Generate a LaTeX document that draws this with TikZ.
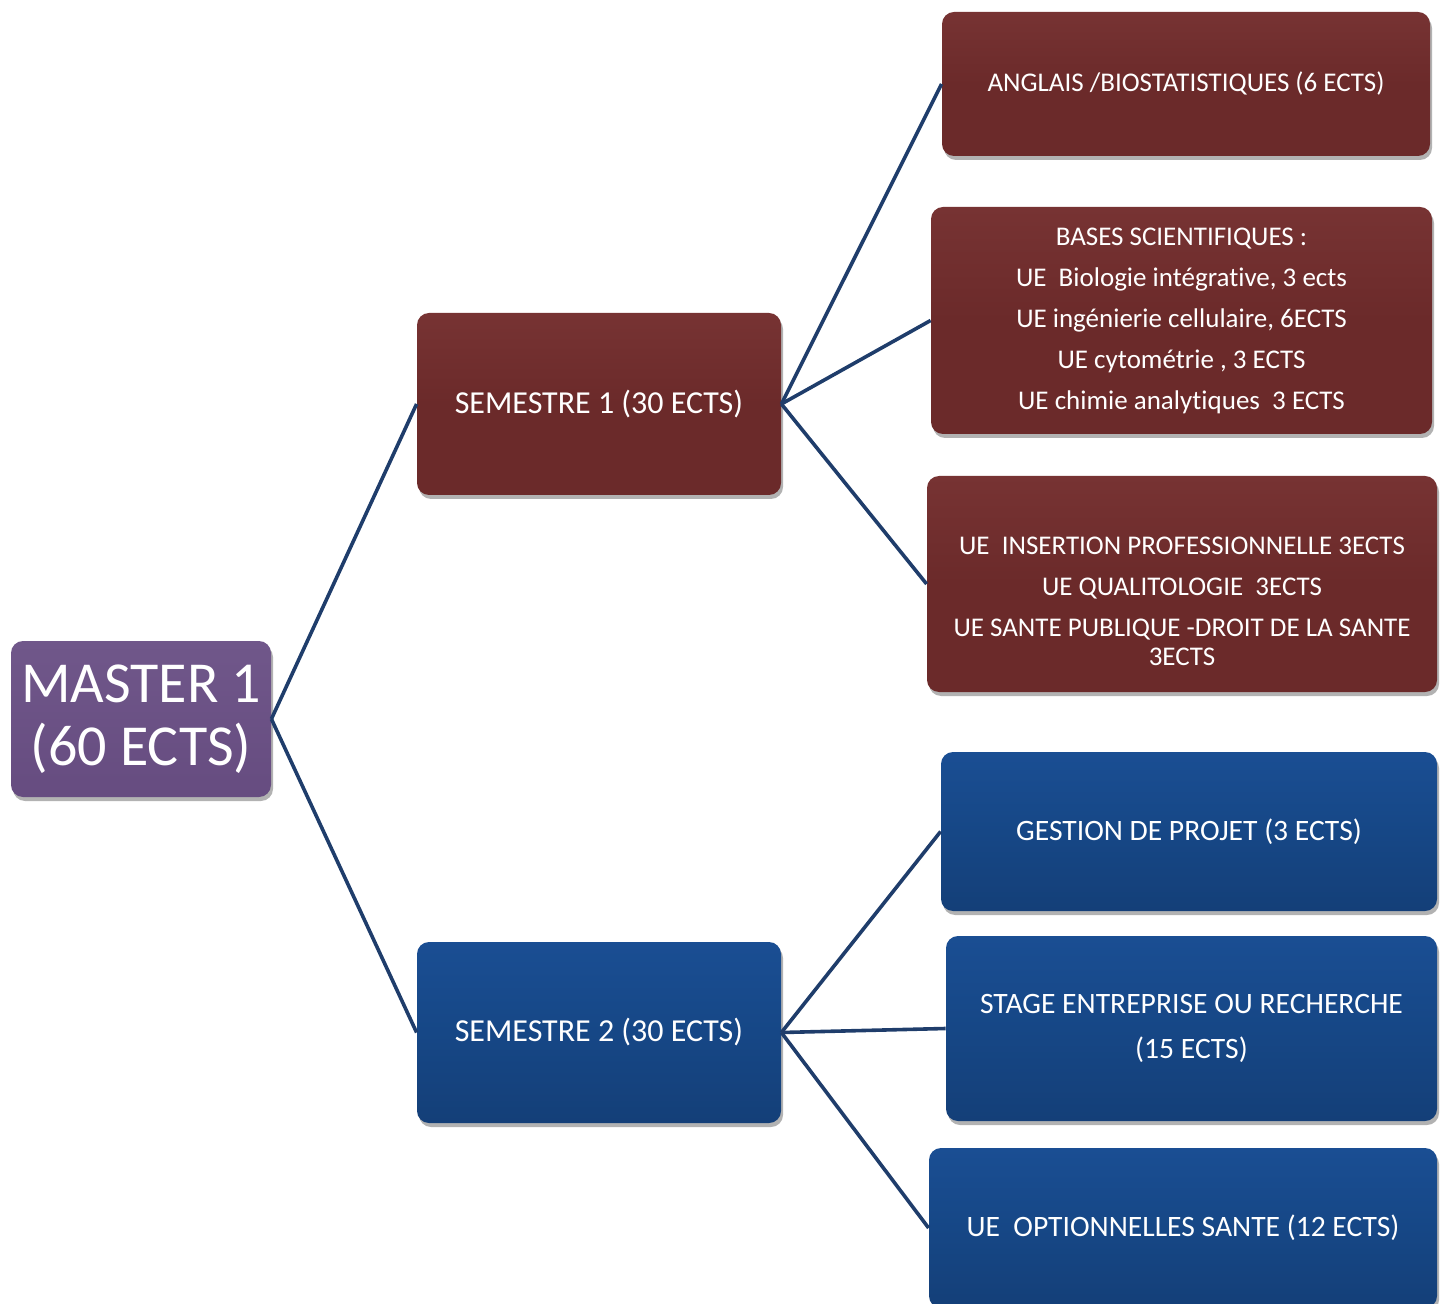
\documentclass[tikz,border=0pt]{standalone}
\usepackage{fontspec}
\setmainfont[Ligatures=NoCommon]{Carlito}
\usetikzlibrary{shadows}
\definecolor{redbox}{HTML}{6B2A2A}
\definecolor{redtop}{HTML}{773333}
\definecolor{bluebox}{HTML}{164786}
\definecolor{bluetop}{HTML}{1A4E93}
\definecolor{bluebot}{HTML}{143F78}
\definecolor{purplebox}{HTML}{664C80}
\definecolor{purpletop}{HTML}{70578A}
\definecolor{linkc}{HTML}{1F3D6B}
\tikzset{
  boxbase/.style={rectangle, rounded corners=6pt, text=white, align=center, inner sep=0pt,
    drop shadow={shadow xshift=1pt, shadow yshift=-2pt, opacity=0.3, fill=black}},
  redbox/.style={boxbase, top color=redtop, bottom color=redbox, middle color=redbox},
  bluebox/.style={boxbase, top color=bluetop, bottom color=bluebot, middle color=bluebox},
  purplebox/.style={boxbase, top color=purpletop, bottom color=purplebox},
  childtxt/.style={font=\fontsize{13.5}{14.5}\selectfont},
  bluechildtxt/.style={font=\fontsize{14.8}{16}\selectfont},
  semtxt/.style={font=\fontsize{16}{18}\selectfont},
  link/.style={draw=linkc, line width=1.8pt}
}
\begin{document}
\begin{tikzpicture}[x=0.5pt, y=-0.5pt]
\useasboundingbox (0,0) rectangle (1445,1304);
\clip (0,0) rectangle (1445,1304);
% nodes
\node[purplebox, minimum width=130pt, minimum height=78pt,
      font=\fontsize{29}{31.5}\selectfont] (M) at (141,719) {MASTER 1\\(60 ECTS)};
\node[redbox, semtxt, minimum width=182pt, minimum height=91pt] (S1) at (599,404) {SEMESTRE 1 (30 ECTS)};
\node[bluebox, semtxt, minimum width=182pt, minimum height=90.5pt] (S2) at (599,1032.5) {SEMESTRE 2 (30 ECTS)};
\node[redbox, childtxt, minimum width=244pt, minimum height=72pt] (A) at (1186,84) {ANGLAIS /BIOSTATISTIQUES (6 ECTS)};
\node[redbox, childtxt, minimum width=250.5pt, minimum height=113.5pt] (B) at (1181.5,320.5)
  {BASES SCIENTIFIQUES :\\[6pt] UE\ \ Biologie intégrative, 3 ects\\[6pt] UE ingénierie cellulaire, 6ECTS\\[6pt] UE cytométrie , 3 ECTS\\[6pt] UE chimie analytiques\ \ 3 ECTS};
\node[redbox, minimum width=255pt, minimum height=108pt] (C) at (1182,584) {};
\node[childtxt, text=white, align=center, inner sep=0pt] (Ct) at (1182,601)
  {UE\ \ INSERTION PROFESSIONNELLE 3ECTS\\[6pt] UE QUALITOLOGIE\ \ 3ECTS\\[6pt] UE SANTE PUBLIQUE -DROIT DE LA SANTE\\ 3ECTS};
\node[bluebox, bluechildtxt, minimum width=248pt, minimum height=79.5pt] (D) at (1189,831.5) {GESTION DE PROJET (3 ECTS)};
\node[bluebox, bluechildtxt, minimum width=245.5pt, minimum height=92.5pt] (E) at (1191.5,1028.5) {STAGE ENTREPRISE OU RECHERCHE\\[6.5pt] (15 ECTS)};
\node[bluebox, bluechildtxt, minimum width=254pt, minimum height=80pt] (F) at (1183,1228) {UE\ \ OPTIONNELLES SANTE (12 ECTS)};
% connectors
\draw[link] (M.east) -- (S1.west);
\draw[link] (M.east) -- (S2.west);
\draw[link] (S1.east) -- (A.west);
\draw[link] (S1.east) -- (B.west);
\draw[link] (S1.east) -- (C.west);
\draw[link] (S2.east) -- (D.west);
\draw[link] (S2.east) -- (E.west);
\draw[link] (S2.east) -- (F.west);
\end{tikzpicture}
\end{document}
